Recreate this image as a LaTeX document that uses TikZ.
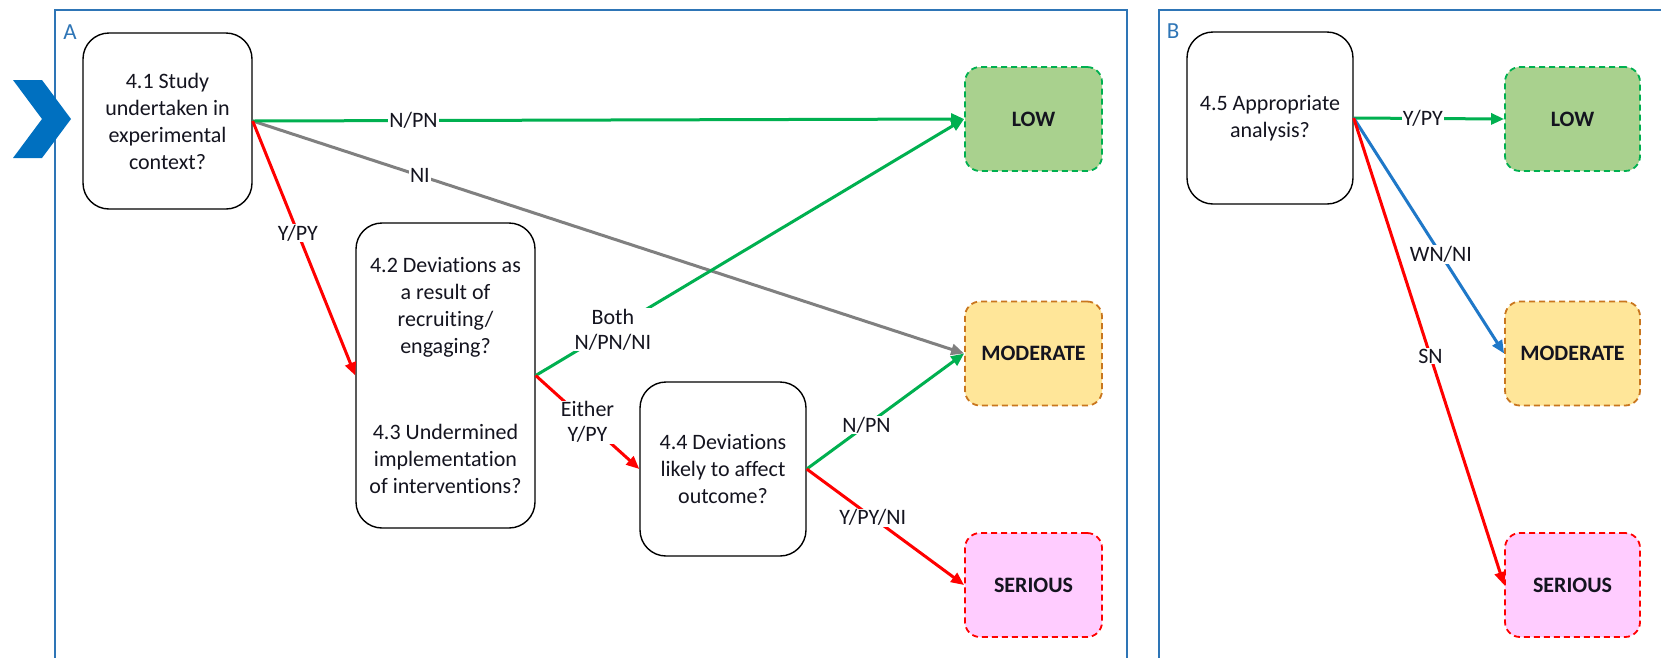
\documentclass[tikz,border=0pt]{standalone}
\usepackage{fontspec}
\setmainfont{Carlito}[Ligatures=NoCommon]
\usetikzlibrary{arrows.meta}
\definecolor{frameblue}{HTML}{2E75B6}
\definecolor{chevblue}{HTML}{0070C0}
\definecolor{lgreen}{HTML}{00B050}
\definecolor{lred}{HTML}{FF0000}
\definecolor{lgray}{HTML}{808080}
\definecolor{lblue}{HTML}{1F78C8}
\definecolor{lowfill}{HTML}{A9D18E}
\definecolor{modfill}{HTML}{FFE699}
\definecolor{modline}{HTML}{C9761E}
\definecolor{serfill}{HTML}{FFCCFF}
\definecolor{txt}{HTML}{14141F}
\begin{document}
\begin{tikzpicture}[x=1pt,y=-1pt,
  qbox/.style={draw=black, line width=1.4pt, rounded corners=26pt, fill=white,
    align=center, inner sep=0pt, text=txt, font=\fontsize{22}{27}\selectfont},
  lvl/.style={line width=1.8pt, dash pattern=on 6pt off 4pt, rounded corners=15pt,
    minimum width=137pt, minimum height=104pt, inner sep=0pt, text=txt,
    font=\fontsize{22}{27}\selectfont\bfseries},
  lowbox/.style={lvl, draw=lgreen, fill=lowfill},
  modbox/.style={lvl, draw=modline, fill=modfill},
  serbox/.style={lvl, draw=lred, fill=serfill},
  conn/.style={line width=3pt, -{Triangle[length=13pt,width=11pt]}},
  lab/.style={fill=white, inner sep=1pt, align=center, text=txt,
    font=\fontsize{22}{25}\selectfont},
  frame/.style={draw=frameblue, line width=1.8pt},
  panellab/.style={text=frameblue, inner sep=0pt, font=\fontsize{23}{27}\selectfont}
]
\useasboundingbox (0,0) rectangle (1661,657);
\clip (0,0) rectangle (1661,657);
\fill[white] (0,0) rectangle (1661,657);

% panel frames
\draw[frame] (55,680) -- (55,10) -- (1127,10) -- (1127,680);
\draw[frame] (1159,680) -- (1159,10) -- (1700,10);
\node[panellab] (labA) at (70,32) {A};
\node[panellab] (labB) at (1173,31) {B};

% chevron
\fill[chevblue] (13,80) -- (42,80) -- (71,119) -- (42,158) -- (13,158) -- (42,119) -- cycle;

% question boxes
\node[qbox, minimum width=169pt, minimum height=176pt] (b41) at (167.5,121)
  {4.1 Study\\undertaken in\\experimental\\context?};
\node[qbox, minimum width=179pt, minimum height=305pt] (b42) at (445.5,375.5)
  {4.2 Deviations as\\a result of\\recruiting/\\engaging?\\[58pt]4.3 Undermined\\implementation\\of interventions?};
\node[qbox, minimum width=166pt, minimum height=174pt] (b44) at (723,469)
  {4.4 Deviations\\likely to affect\\outcome?};
\node[qbox, minimum width=166pt, minimum height=172pt] (b45) at (1270,118)
  {4.5 Appropriate\\analysis?};

% level boxes
\node[lowbox] (lowA) at (1033.5,119) {LOW};
\node[modbox] (modA) at (1033.5,353.5) {MODERATE};
\node[serbox] (serA) at (1033.5,585) {SERIOUS};
\node[lowbox, minimum width=135pt] (lowB) at (1572.5,119) {LOW};
\node[modbox, minimum width=135pt] (modB) at (1572.5,353.5) {MODERATE};
\node[serbox, minimum width=135pt] (serB) at (1572.5,585) {SERIOUS};

% panel A connectors
\draw[conn, lgray] (b41.east) -- node[lab, pos=0.235] {NI} (modA.west);
\draw[conn, lgreen] (b41.east) -- node[lab, pos=0.226] {N/PN} (lowA.west);
\draw[conn, lred] (b41.east) -- node[lab, pos=0.44] {Y/PY} (b42.west);
\draw[conn, lgreen] (b42.east) -- node[lab, pos=0.18] {Both\\N/PN/NI} (lowA.west);
\draw[conn, lred] (b42.east) -- node[lab, pos=0.5] {Either\\Y/PY} (b44.west);
\draw[conn, lgreen] (b44.east) -- node[lab, pos=0.38] {N/PN} (modA.west);
\draw[conn, lred] (b44.east) -- node[lab, pos=0.42] {Y/PY/NI} (serA.west);

% panel B connectors
\draw[conn, lgreen] (b45.east) -- node[lab, pos=0.46] {Y/PY} (lowB.west);
\draw[conn, lblue] (b45.east) -- node[lab, pos=0.58] {WN/NI} (modB.west);
\draw[conn, lred] (b45.east) -- node[lab, pos=0.51] {SN} (serB.west);
\end{tikzpicture}
\end{document}
